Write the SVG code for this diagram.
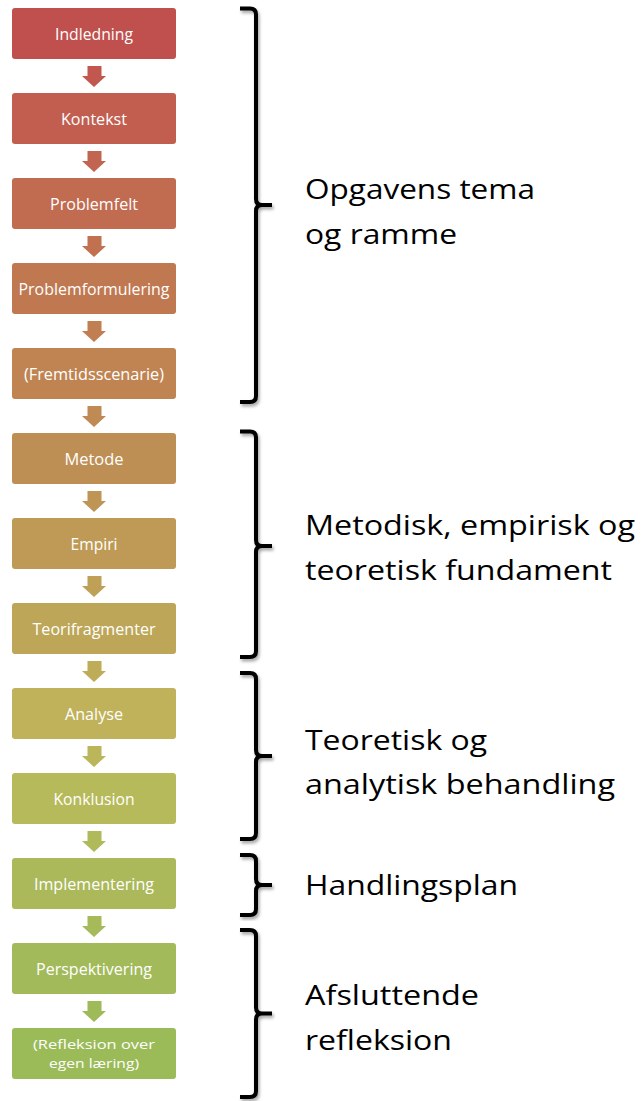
<svg xmlns="http://www.w3.org/2000/svg" width="642" height="1101" viewBox="0 0 642 1101">
<style>
.box text{font-family:"Open Sans","Liberation Sans",sans-serif;font-size:16px;fill:#FFFFFF;text-anchor:middle}
.box text.two{font-size:13.5px}
.lbl{font-family:"Open Sans","Liberation Sans",sans-serif;font-size:28px;fill:#000000}
.br{fill:none;stroke:#000000;stroke-width:4;stroke-linecap:butt;stroke-linejoin:round;filter:url(#sh)}
</style>
<defs>
<filter id="sh" x="-50%" y="-10%" width="200%" height="120%">
<feDropShadow dx="1.5" dy="2.5" stdDeviation="1.8" flood-color="#000" flood-opacity="0.35"/>
</filter>
<path id="arr" d="M87.5,66 H101.5 V76 H106 L94,87 L82,76 H87.5 Z"/>
</defs>
<rect width="642" height="1101" fill="#FFFFFF"/>

<g id="connectors">
<use href="#arr" fill="#C1574E"/>
<use href="#arr" transform="translate(0,85)" fill="#C26550"/>
<use href="#arr" transform="translate(0,170)" fill="#C17150"/>
<use href="#arr" transform="translate(0,255)" fill="#C07E51"/>
<use href="#arr" transform="translate(0,340)" fill="#BF8A53"/>
<use href="#arr" transform="translate(0,425)" fill="#BE9555"/>
<use href="#arr" transform="translate(0,510)" fill="#BEA057"/>
<use href="#arr" transform="translate(0,595)" fill="#BEAC59"/>
<use href="#arr" transform="translate(0,680)" fill="#BBB65A"/>
<use href="#arr" transform="translate(0,765)" fill="#B1BA5A"/>
<use href="#arr" transform="translate(0,850)" fill="#A6BA5A"/>
<use href="#arr" transform="translate(0,935)" fill="#9EBA59"/>
</g>

<g id="n-indledning" class="box"><rect x="12" y="8" width="164" height="51" rx="3" fill="#C0504D"/><text x="94" y="39.5" textLength="78" lengthAdjust="spacingAndGlyphs">Indledning</text></g>
<g id="n-kontekst" class="box"><rect x="12" y="93" width="164" height="51" rx="3" fill="#C25E4F"/><text x="94" y="124.5" textLength="66" lengthAdjust="spacingAndGlyphs">Kontekst</text></g>
<g id="n-problemfelt" class="box"><rect x="12" y="178" width="164" height="51" rx="3" fill="#C16B50"/><text x="94" y="209.5" textLength="88" lengthAdjust="spacingAndGlyphs">Problemfelt</text></g>
<g id="n-problemformulering" class="box"><rect x="12" y="263" width="164" height="51" rx="3" fill="#C07851"/><text x="94" y="294.5" textLength="151" lengthAdjust="spacingAndGlyphs">Problemformulering</text></g>
<g id="n-fremtidsscenarie" class="box"><rect x="12" y="348" width="164" height="51" rx="3" fill="#BF8452"/><text x="94" y="379.5" textLength="140" lengthAdjust="spacingAndGlyphs">(Fremtidsscenarie)</text></g>
<g id="n-metode" class="box"><rect x="12" y="433" width="164" height="51" rx="3" fill="#BE8F55"/><text x="94" y="464.5" textLength="59" lengthAdjust="spacingAndGlyphs">Metode</text></g>
<g id="n-empiri" class="box"><rect x="12" y="518" width="164" height="51" rx="3" fill="#BE9A56"/><text x="94" y="549.5" textLength="47" lengthAdjust="spacingAndGlyphs">Empiri</text></g>
<g id="n-teorifragmenter" class="box"><rect x="12" y="603" width="164" height="51" rx="3" fill="#BDA658"/><text x="94" y="634.5" textLength="123" lengthAdjust="spacingAndGlyphs">Teorifragmenter</text></g>
<g id="n-analyse" class="box"><rect x="12" y="688" width="164" height="51" rx="3" fill="#BFB25A"/><text x="94" y="719.5" textLength="58" lengthAdjust="spacingAndGlyphs">Analyse</text></g>
<g id="n-konklusion" class="box"><rect x="12" y="773" width="164" height="51" rx="3" fill="#B7BA5A"/><text x="94" y="804.5" textLength="81" lengthAdjust="spacingAndGlyphs">Konklusion</text></g>
<g id="n-implementering" class="box"><rect x="12" y="858" width="164" height="51" rx="3" fill="#ABB95A"/><text x="94" y="889.5" textLength="120" lengthAdjust="spacingAndGlyphs">Implementering</text></g>
<g id="n-perspektivering" class="box"><rect x="12" y="943" width="164" height="51" rx="3" fill="#A2BA5A"/><text x="94" y="974.5" textLength="116" lengthAdjust="spacingAndGlyphs">Perspektivering</text></g>
<g id="n-refleksion" class="box"><rect x="12" y="1028" width="164" height="51" rx="3" fill="#9BBB59"/><text class="two" x="94" y="1049" textLength="122" lengthAdjust="spacingAndGlyphs">(Refleksion over</text><text class="two" x="94" y="1068" textLength="90" lengthAdjust="spacingAndGlyphs">egen læring)</text></g>

<g id="b-tema">
<path class="br" d="M240,8.5 H250 Q256,8.5 256,14.5 V199 Q256,205 262,205 H272 M262,205 Q256,205 256,211 V396 Q256,402 250,402 H240"/>
<text class="lbl" x="305" y="199" textLength="230" lengthAdjust="spacingAndGlyphs">Opgavens tema</text>
<text class="lbl" x="305" y="244" textLength="152" lengthAdjust="spacingAndGlyphs">og ramme</text>
</g>
<g id="b-fundament">
<path class="br" d="M240,431.5 H250 Q256,431.5 256,437.5 V540 Q256,546 262,546 H272 M262,546 Q256,546 256,552 V651 Q256,657 250,657 H240"/>
<text class="lbl" x="305" y="535" textLength="330" lengthAdjust="spacingAndGlyphs">Metodisk, empirisk og</text>
<text class="lbl" x="305" y="580" textLength="307" lengthAdjust="spacingAndGlyphs">teoretisk fundament</text>
</g>
<g id="b-behandling">
<path class="br" d="M240,673 H250 Q256,673 256,679 V750 Q256,756 262,756 H272 M262,756 Q256,756 256,762 V833 Q256,839 250,839 H240"/>
<text class="lbl" x="305" y="750" textLength="182" lengthAdjust="spacingAndGlyphs">Teoretisk og</text>
<text class="lbl" x="305" y="794" textLength="310" lengthAdjust="spacingAndGlyphs">analytisk behandling</text>
</g>
<g id="b-handlingsplan">
<path class="br" d="M240,855 H250 Q256,855 256,861 V879 Q256,885 262,885 H272 M262,885 Q256,885 256,891 V909 Q256,915 250,915 H240"/>
<text class="lbl" x="305" y="895" textLength="213" lengthAdjust="spacingAndGlyphs">Handlingsplan</text>
</g>
<g id="b-refleksion">
<path class="br" d="M240,930 H250 Q256,930 256,936 V1007.5 Q256,1013.5 262,1013.5 H272 M262,1013.5 Q256,1013.5 256,1019.5 V1091 Q256,1097 250,1097 H240"/>
<text class="lbl" x="305" y="1005" textLength="174" lengthAdjust="spacingAndGlyphs">Afsluttende</text>
<text class="lbl" x="305" y="1050" textLength="147" lengthAdjust="spacingAndGlyphs">refleksion</text>
</g>
</svg>
